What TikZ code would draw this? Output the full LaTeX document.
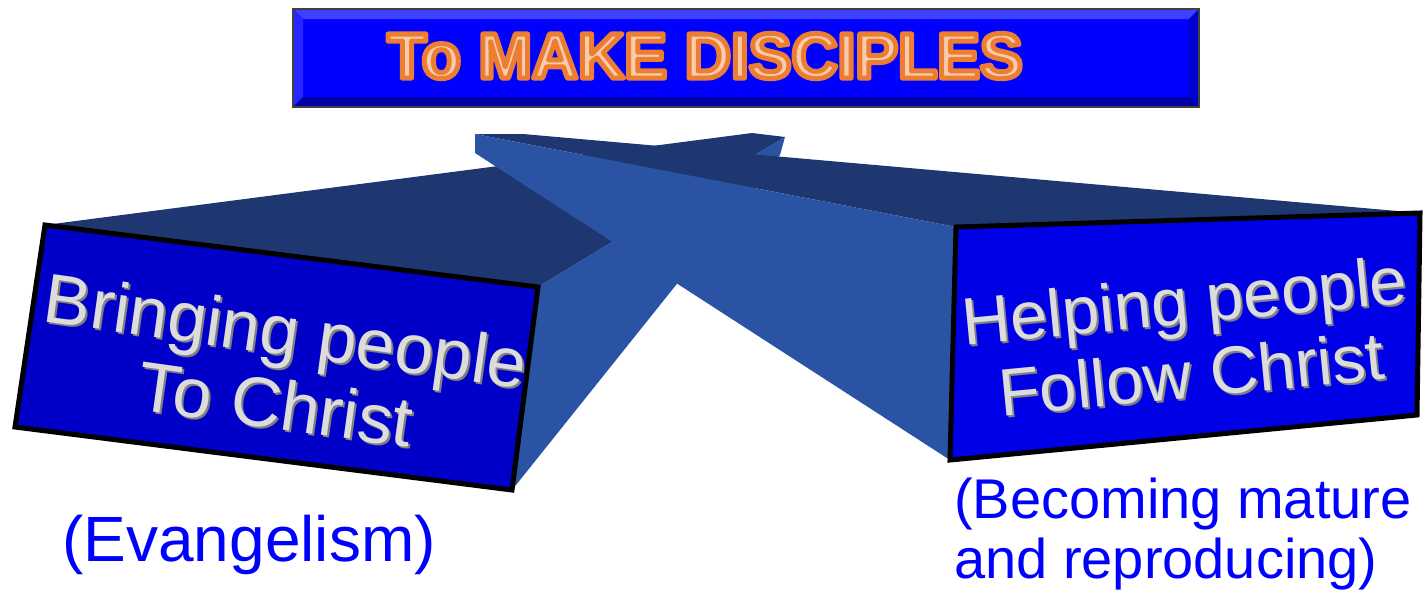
\documentclass[tikz,border=0pt]{standalone}
\usepackage{fontspec}
\setmainfont{Liberation Sans}
\usetikzlibrary{positioning}

\definecolor{beamtop}{HTML}{1F3770}
\definecolor{beamside}{HTML}{2B53A3}
\definecolor{faceleft}{HTML}{0000C8}
\definecolor{faceright}{HTML}{0000E6}
\definecolor{bannerblue}{HTML}{0000FF}
\definecolor{wordorange}{HTML}{ED7D31}
\definecolor{wordpeach}{HTML}{F8CBAD}
\definecolor{silver}{HTML}{DCDCDC}
\definecolor{noteblue}{HTML}{0000FF}

% text filled in the current colour and outlined in the rgb colour #1, #2 wide
\newcommand{\outlined}[3]{\special{pdf:literal direct #1 RG #2 w 1 j 2 Tr}#3\special{pdf:literal direct 0 Tr}}

\begin{document}
\begin{tikzpicture}[x=1pt, y=-1pt]
        % Setup the styles for the faces and the texts
        \tikzset{face style/.style={draw=black,
                                    line width=5pt,
                                    line join=miter},
                 title style/.style={inner sep=0pt,
                                     text=wordpeach,
                                     font=\fontsize{64}{70}\selectfont\bfseries},
                 silver style/.style={inner sep=0pt,
                                      align=center,
                                      text=silver},
                 note style/.style={inner sep=0pt,
                                    text=noteblue}}
        \useasboundingbox (0,0) rectangle (1426,598);

        % Draw the banner
        \fill[bannerblue] (293,9) rectangle (1199,107);
        \fill[bannerblue!75!white] (293,9) -- (1199,9) -- (1189,19) -- (303,19) -- cycle;
        \fill[bannerblue!85!white] (293,9) -- (303,19) -- (303,97) -- (293,107) -- cycle;
        \fill[bannerblue!80!black] (1199,9) -- (1189,19) -- (1189,97) -- (1199,107) -- cycle;
        \fill[bannerblue!65!black] (293,107) -- (303,97) -- (1189,97) -- (1199,107) -- cycle;
        \draw[black!75, line width=2pt] (293,9) rectangle (1199,107);

        % Write the title
        \node[title style] (title) at (705,56) {\outlined{0.93 0.49 0.19}{5}{To MAKE DISCIPLES}};

        % Draw the left beam
        \fill[beamtop]  (45,225) -- (752,133) -- (785,137) -- (538,287) -- cycle;
        \fill[beamside] (538,287) -- (785,137) -- (780,155) -- (512,490) -- cycle;
        \filldraw[face style, fill=faceleft] (45,225) -- (538,287) -- (512,490) -- (15,427) -- cycle;

        % Draw the right beam
        \fill[beamtop]  (475,134) -- (523,134) -- (1420,213) -- (956,227) -- cycle;
        \fill[beamside] (475,134) -- (956,227) -- (950,460) -- (475,153) -- cycle;
        \filldraw[face style, fill=faceright] (956,227) -- (1420,213) -- (1417,415) -- (950,460) -- cycle;

        % Write on the faces
        \node[silver style, text=black!50, rotate=-8, font=\fontsize{70}{74}\selectfont] (bringshadow) at (283,369) {Bringing people\\To Christ};
        \node[silver style, rotate=-8, font=\fontsize{70}{74}\selectfont] (bring) at (281,367) {Bringing people\\To Christ};

        \node[silver style, text=black!50, rotate=5.5, font=\fontsize{67}{74}\selectfont] (helpshadow) at (1190,339) {Helping people\\Follow Christ};
        \node[silver style, rotate=5.5, font=\fontsize{67}{74}\selectfont] (help) at (1188,337) {Helping people\\Follow Christ};

        % Write the notes
        \node[note style, font=\fontsize{64}{70}\selectfont] (evangelism) at (249,545) {(Evangelism)};
        \node[note style, anchor=north west, align=left, font=\fontsize{56}{60}\selectfont] (maturity) at (954,478) {(Becoming mature\\and reproducing)};
\end{tikzpicture}
\end{document}
